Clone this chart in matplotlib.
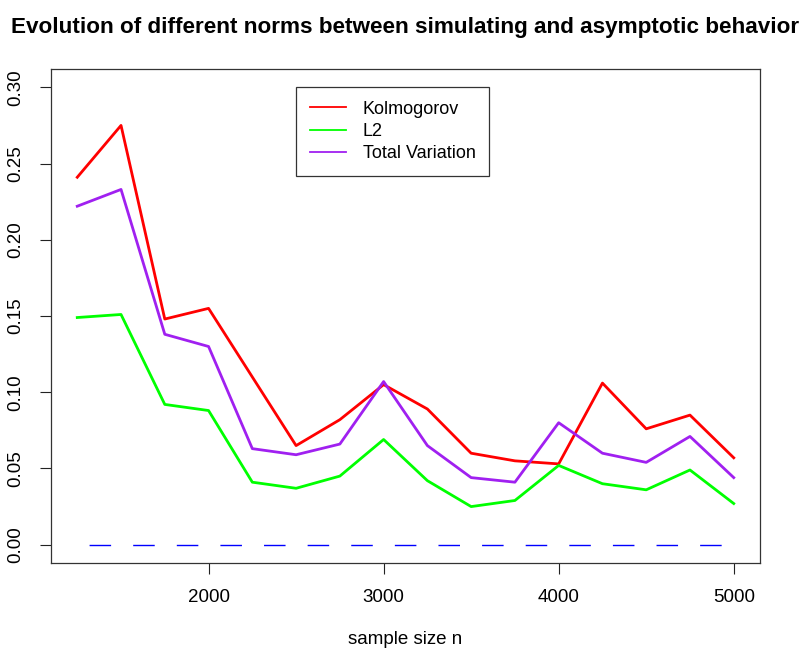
import numpy as np
import matplotlib
matplotlib.use("Agg")
import matplotlib.pyplot as plt

# ==================================================
# DATA
# ==================================================
sample_size = [1250, 1500, 1750, 2000, 2250, 2500, 2750, 3000,
               3250, 3500, 3750, 4000, 4250, 4500, 4750, 5000]
kolmogorov = [0.241, 0.275, 0.148, 0.155, 0.110, 0.065, 0.082, 0.105,
              0.089, 0.060, 0.055, 0.053, 0.106, 0.076, 0.085, 0.057]
l2 = [0.149, 0.151, 0.092, 0.088, 0.041, 0.037, 0.045, 0.069,
      0.042, 0.025, 0.029, 0.052, 0.040, 0.036, 0.049, 0.027]
total_variation = [0.222, 0.233, 0.138, 0.130, 0.063, 0.059, 0.066, 0.107,
                   0.065, 0.044, 0.041, 0.080, 0.060, 0.054, 0.071, 0.044]
asymptotic = [0.0] * len(sample_size)

x_ticks = [2000, 3000, 4000, 5000]
y_ticks = [0.00, 0.05, 0.10, 0.15, 0.20, 0.25, 0.30]

# ==================================================
# PLOT
# ==================================================
plt.rcParams['font.family'] = ['Liberation Sans', 'DejaVu Sans']

W, H = 802, 650
fig = plt.figure(figsize=(W / 100, H / 100), dpi=100)
left, right, top, bottom = 51, 760, 69, 563
ax = fig.add_axes([left / W, 1 - bottom / H, (right - left) / W, (bottom - top) / H])

ax.plot(sample_size, kolmogorov, color='#FF0000', lw=2, label='Kolmogorov')
ax.plot(sample_size, l2, color='#00FF00', lw=2, label='L2')
ax.plot(sample_size, total_variation, color='#A020F0', lw=2, label='Total Variation')
ax.plot(sample_size, asymptotic, color='#0000FF', lw=1,
        linestyle=(22.7, (15.5, 15.9)))

ax.set_xlim(1100, 5150)
ax.set_ylim(-0.012, 0.312)
ax.set_xticks(x_ticks)
ax.set_xticklabels([str(v) for v in x_ticks])
ax.set_yticks(y_ticks)
ax.set_yticklabels([f"{v:.2f}" for v in y_ticks], rotation=90, va='center')
ax.tick_params(axis='both', length=8, width=0.8, labelsize=13.5, pad=11, color='#222222')
for s in ax.spines.values():
    s.set_color('#333333')
    s.set_linewidth(0.9)

leg = ax.legend(loc='upper left', bbox_to_anchor=(0.3456, 0.9636), fontsize=13,
                frameon=True, fancybox=False, framealpha=1, edgecolor='#333333',
                handlelength=2.0, handletextpad=0.95, borderpad=0.75, labelspacing=0.3,
                borderaxespad=0)
leg.get_frame().set_linewidth(0.9)
for h in leg.get_lines():
    h.set_linewidth(1.3)

fig.text(405.5 / W, 1 - 27 / H,
         'Evolution of different norms between simulating and asymptotic behavior',
         ha='center', va='center', fontsize=16.2, fontweight='bold')
fig.text(405.5 / W, 1 - 640 / H, 'sample size n', ha='center', va='center', fontsize=13.5)

plt.savefig('out.png', dpi=100)
